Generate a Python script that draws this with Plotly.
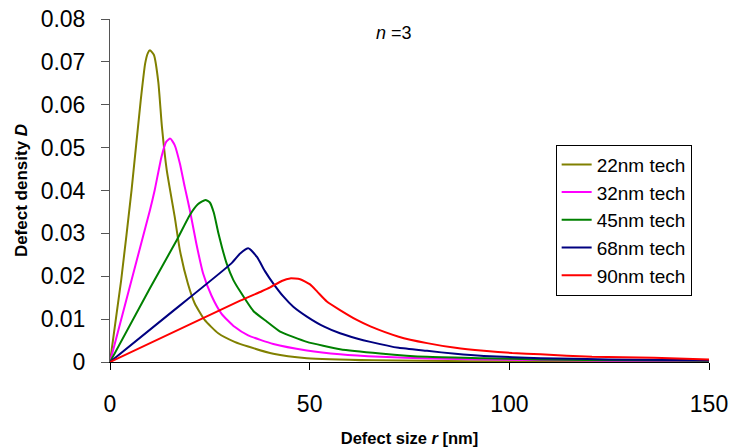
import plotly.graph_objects as go

# ---- data ----
r_22 = [0, 2.8, 5.4, 7.7, 8.8, 9.5, 10.0, 11.0, 12.1, 13.0, 14.2, 16.2, 17.5, 19.5, 21.2, 23.7, 27.1, 31.2, 34.6, 40.9, 49.3, 66, 90, 120, 150]
d_22 = [0, 0.0191, 0.0401, 0.0611, 0.0696, 0.0721, 0.0727, 0.0716, 0.0653, 0.0549, 0.0448, 0.0339, 0.0261, 0.0183, 0.0137, 0.0098, 0.0067, 0.0047, 0.0036, 0.0019, 0.0009, 0.0004, 0.0002, 0.0001, 0.0001]

r_32 = [0, 10, 11.2, 12.9, 14.1, 15.1, 16.2, 17.5, 18.7, 20.0, 21.6, 23.3, 25.4, 27.9, 31.2, 34.6, 40.9, 49.3, 57.6, 67.7, 80, 100, 125, 150]
d_32 = [0, 0.0354, 0.0401, 0.0479, 0.0514, 0.0521, 0.0506, 0.0463, 0.0409, 0.0354, 0.0277, 0.0207, 0.0155, 0.0113, 0.0082, 0.0062, 0.0042, 0.0027, 0.0018, 0.0012, 0.0008, 0.0005, 0.0003, 0.0002]

r_45 = [0, 10, 16.7, 20.0, 22.0, 23.9, 25.0, 26.0, 27.1, 28.0, 29.2, 30.9, 32.5, 35.9, 39.3, 42.6, 49.3, 57.6, 67.7, 79.4, 93.6, 107.8, 130, 150]
d_45 = [0, 0.0172, 0.0284, 0.0343, 0.0368, 0.0378, 0.0372, 0.0348, 0.0302, 0.0269, 0.0230, 0.0191, 0.0166, 0.0119, 0.0094, 0.0071, 0.0047, 0.0030, 0.0020, 0.0012, 0.0009, 0.0006, 0.0004, 0.0003]

r_68 = [0, 14.2, 30.4, 32.6, 34.7, 36.8, 38.8, 40.9, 43.4, 45.9, 49.3, 53.5, 57.6, 61.8, 65.2, 72.3, 79.4, 86.5, 93.6, 107.8, 125, 150]
d_68 = [0, 0.0107, 0.0230, 0.0253, 0.0265, 0.0245, 0.0212, 0.0183, 0.0153, 0.0129, 0.0106, 0.0083, 0.0067, 0.0055, 0.0047, 0.0033, 0.0026, 0.0019, 0.0014, 0.0009, 0.0006, 0.0004]

r_90 = [0, 32.6, 38, 40.1, 43, 45.1, 47.6, 50.1, 52, 54.3, 57.6, 61.8, 65.2, 72.3, 79.4, 86.5, 93.6, 100.7, 107.8, 120.7, 136.2, 150]
d_90 = [0, 0.0143, 0.0165, 0.0174, 0.0189, 0.0195, 0.0193, 0.0181, 0.0163, 0.0141, 0.0121, 0.0098, 0.0083, 0.0059, 0.0044, 0.0033, 0.0026, 0.0021, 0.0018, 0.0012, 0.0010, 0.0006]

series_names = ["22nm tech", "32nm tech", "45nm tech", "68nm tech", "90nm tech"]
series_r = [r_22, r_32, r_45, r_68, r_90]
series_d = [d_22, d_32, d_45, d_68, d_90]
series_colors = ["#808000", "#FF00FF", "#008000", "#000080", "#FF0000"]

x_ticks = [0, 50, 100, 150]
y_ticks = [0, 0.01, 0.02, 0.03, 0.04, 0.05, 0.06, 0.07, 0.08]
y_tick_text = ["0", "0.01", "0.02", "0.03", "0.04", "0.05", "0.06", "0.07", "0.08"]

FONT = "Liberation Sans, Arial, sans-serif"

fig = go.Figure()
for name, rr, dd, col in zip(series_names, series_r, series_d, series_colors):
    fig.add_trace(go.Scatter(
        x=rr, y=dd, name=name, mode="lines", legendgroup=name,
        line=dict(color=col, width=2, shape="spline", smoothing=0.5),
        cliponaxis=False,
    ))

fig.update_layout(
    width=729, height=447,
    margin=dict(l=110, r=20, t=19, b=85),
    plot_bgcolor="white", paper_bgcolor="white",
    font=dict(family=FONT, color="black"),
    showlegend=True,
    legend=dict(
        x=0.744, y=0.634, xanchor="left", yanchor="top",
        bordercolor="black", borderwidth=1, bgcolor="white",
        font=dict(size=19, family=FONT), tracegroupgap=0,
        itemwidth=30,
    ),
    xaxis=dict(
        range=[0, 150], tickvals=x_ticks, ticks="outside", ticklen=7,
        tickcolor="black", showline=True, linecolor="black", linewidth=1,
        showgrid=False, zeroline=False, tickfont=dict(size=23),
        ticklabelstandoff=14, automargin=False, ticklabeloverflow="allow",
        title=dict(text="<b>Defect size <i>r</i> [nm]</b>", font=dict(size=16.5), standoff=16),
    ),
    yaxis=dict(
        range=[0, 0.08], tickvals=y_ticks, ticktext=y_tick_text, ticks="outside", ticklen=8,
        tickcolor="#555", showline=True, linecolor="#555", linewidth=1,
        showgrid=False, zeroline=False, tickfont=dict(size=23),
        ticklabelstandoff=11, automargin=False, ticklabeloverflow="allow",
        title=dict(text="<b>Defect density <i>D</i></b>", font=dict(size=17), standoff=8),
    ),
    annotations=[dict(
        x=71.0, y=0.0767, xref="x", yref="y", text="<i>n</i> =3", showarrow=False,
        font=dict(size=18, family=FONT), xanchor="center", yanchor="middle",
    )],
)

# remove the default 8 px page margin so the figure fills the window exactly
fig.write_html(
    "out.html",
    config={"displayModeBar": False},
    post_script="document.body.style.margin='0';document.body.style.overflow='hidden';",
)
